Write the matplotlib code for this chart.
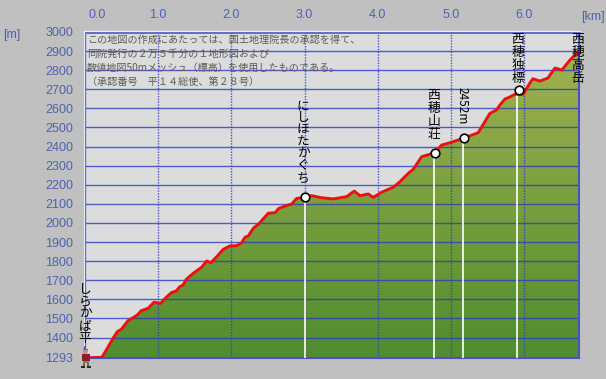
import numpy as np
import matplotlib
matplotlib.use("Agg")
import matplotlib.pyplot as plt
from matplotlib.lines import Line2D
from matplotlib.patches import Polygon, Rectangle, Ellipse
from matplotlib.colors import LinearSegmentedColormap
from matplotlib.transforms import ScaledTranslation

plt.rcParams['font.family'] = ['Noto Sans CJK JP', 'DejaVu Sans']

distance_km = [0.0, 0.086, 0.232, 0.291, 0.383, 0.441, 0.496, 0.587, 0.656, 0.714, 0.769, 0.861, 0.943, 1.034,
               1.097, 1.179, 1.247, 1.294, 1.339, 1.384, 1.48, 1.594, 1.662, 1.721, 1.799, 1.889, 1.981,
               2.072, 2.141, 2.186, 2.231, 2.299, 2.381, 2.504, 2.596, 2.65, 2.777, 2.824, 2.892, 2.964,
               3.005, 3.097, 3.234, 3.392, 3.575, 3.679, 3.757, 3.87, 3.939, 4.053, 4.212, 4.303, 4.426,
               4.485, 4.6, 4.781, 4.873, 4.986, 5.168, 5.373, 5.533, 5.624, 5.67, 5.738, 5.806, 5.874,
               5.988, 6.079, 6.12, 6.216, 6.325, 6.421, 6.516, 6.626, 6.721]
elevation_m = [1295, 1295, 1297, 1335, 1396, 1431, 1443, 1488, 1504, 1518, 1541, 1553, 1585, 1579,
               1606, 1635, 1644, 1666, 1675, 1705, 1737, 1768, 1801, 1792, 1823, 1862, 1880,
               1881, 1897, 1925, 1932, 1972, 1998, 2051, 2054, 2077, 2094, 2099, 2129, 2131,
               2138, 2143, 2132, 2126, 2138, 2167, 2143, 2152, 2134, 2161, 2187, 2216, 2263,
               2281, 2347, 2368, 2408, 2420, 2443, 2473, 2574, 2592, 2618, 2649, 2660, 2674,
               2674, 2733, 2755, 2743, 2759, 2811, 2801, 2853, 2890]

x_ticks = [0, 1, 2, 3, 4, 5, 6]
x_tick_labels = ['0.0', '1.0', '2.0', '3.0', '4.0', '5.0', '6.0']
y_ticks = [1293, 1400, 1500, 1600, 1700, 1800, 1900, 2000, 2100, 2200, 2300, 2400, 2500, 2600, 2700, 2800, 2900, 3000]

waypoint_km = [3.0, 4.786, 5.18, 5.93]
waypoint_m = [2138, 2368, 2443, 2696]
post_km = [3.0, 4.768, 5.168, 5.897]

notice_lines = ['この地図の作成にあたっては、国土地理院長の承認を得て、',
                '同院発行の２万５千分の１地形図および',
                '数値地図50mメッシュ（標高）を使用したものである。',
                '（承認番号　平１４総使、第２８号）']

W, H = 606, 379
fig = plt.figure(figsize=(W / 100, H / 100), dpi=100, facecolor='#c0c0c0')
L, R, T, B = 85, 579, 32, 358
ax = fig.add_axes([L / W, 1 - B / H, (R - L) / W, (B - T) / H])
ax.set_facecolor('#dcdcdc')
ax.set_xlim(0, 6.75)
ax.set_ylim(1293, 3000)

def fx(px):
    return px / W
def fy(py):
    return 1 - py / H

cmap = LinearSegmentedColormap.from_list('g', ['#a5b452', '#7ba03e', '#508c2e'])
grad = np.linspace(0, 1, 256).reshape(-1, 1)
im = ax.imshow(grad, extent=[0, 6.75, 1293, 3000], aspect='auto', cmap=cmap, zorder=1, origin='upper')
outline = list(zip(distance_km, elevation_m)) + [(6.75, 2905), (6.75, 1293), (0, 1293)]
poly = Polygon(outline, transform=ax.transData, facecolor='none', edgecolor='none')
ax.add_patch(poly)
im.set_clip_path(poly)

blue = '#2c3cc4'
for v in y_ticks:
    ax.axhline(v, color=blue, lw=1.0, alpha=0.8, zorder=2)
for v in x_ticks:
    ax.axvline(v, color=blue, lw=1.0, ls=(0, (1, 1)), alpha=0.85, zorder=2)

for k, m in zip(post_km, waypoint_m):
    ax.plot([k, k], [1293, m], color='white', lw=1.2, zorder=3, solid_capstyle='butt')

ax.plot(distance_km, elevation_m, color='#ee1010', lw=2.1, zorder=4, solid_joinstyle='round')
ax.plot(waypoint_km, waypoint_m, 'o', ms=6.2, mfc='white', mec='black', mew=1.2, zorder=5)

ax.xaxis.tick_top()
ax.set_xticks(x_ticks, x_tick_labels)
ax.set_yticks(y_ticks, [str(v) for v in y_ticks])
ax.tick_params(axis='x', length=0, pad=8, labelsize=9, labelcolor='#5060b0')
ax.tick_params(axis='y', length=0, pad=8.5, labelsize=9, labelcolor='#5060b0')
for lab in ax.get_xticklabels() + ax.get_yticklabels():
    lab.set_family('Liberation Sans')
first = ax.get_xticklabels()[0]
first.set_transform(first.get_transform() + ScaledTranslation(12 / 100, 0, fig.dpi_scale_trans))

for s in ['top', 'right', 'bottom', 'left']:
    ax.spines[s].set_color('#4a50c8')
    ax.spines[s].set_linewidth(1.5)
ax.spines['left'].set_linestyle((0, (1, 0.6)))
ax.spines['top'].set_linewidth(1.8)
fig.add_artist(Line2D([fx(83.5), fx(83.5)], [fy(30.5), fy(345)], color='#e8e8f0', lw=1.0))
fig.add_artist(Line2D([fx(83.5), fx(580)], [fy(30.5), fy(30.5)], color='#eeeef5', lw=1.0))

fig.text(fx(3), fy(35), '[m]', family='Liberation Sans', fontsize=9, color='#5060b0', va='center')
fig.text(fx(581), fy(17), '[km]', family='Liberation Sans', fontsize=9, color='#5060b0', va='center')

for line, py in zip(notice_lines, [39.5, 53.5, 67.5, 82]):
    fig.text(fx(87), fy(py), line, fontsize=7.25, color='#5a5a5a', va='center', ha='left', zorder=6)

def vertical(label, px, py_top, step):
    for i, ch in enumerate(label):
        fig.text(fx(px), fy(py_top + 10.5 + step * i), ch, fontsize=9.2, color='black',
                 ha='center', va='baseline', zorder=7)

vertical('にしほたかぐち', 303, 98.5, 12.1)
vertical('西穂山荘', 434, 89, 12.8)
vertical('西穂独標', 518, 33, 12.8)
vertical('西穂高岳', 578, 33, 12.8)
vertical('しらかば平', 85, 282, 12.4)
fig.text(fx(462), fy(105.5), '2452m', fontsize=8.6, color='black', rotation=270,
         ha='center', va='center', zorder=7)

# hiker icon at the start of the route
def box(x, y, w, h, c):
    fig.add_artist(Rectangle((fx(x), fy(y + h)), w / W, h / H, transform=fig.transFigure,
                             facecolor=c, edgecolor='none', zorder=8))

fig.add_artist(Ellipse((fx(85.5), fy(351.5)), 5 / W, 5 / H, transform=fig.transFigure,
                       facecolor='#c8956c', edgecolor='none', zorder=8))
box(83, 348.5, 5, 1.5, '#8a6a4a')
box(82, 354, 8, 7, '#8c1f2c')
box(83, 361, 6, 2, '#8f7a5a')
box(82.5, 363, 2.5, 3, '#6f6a55')
box(86.5, 363, 2.5, 3, '#6f6a55')
box(81, 366, 4, 1.5, '#2a2a22')
box(87, 366, 4, 1.5, '#2a2a22')

fig.savefig('out.png', dpi=100, facecolor=fig.get_facecolor())
